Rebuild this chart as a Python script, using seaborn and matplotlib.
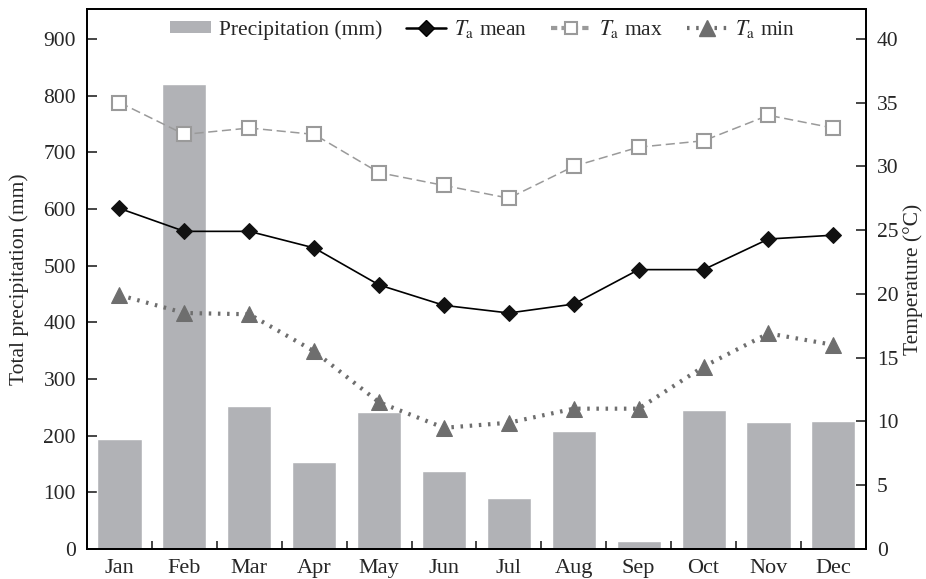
import numpy as np
import pandas as pd
import matplotlib
matplotlib.use('Agg')
import matplotlib.pyplot as plt
import seaborn as sns
from matplotlib.patches import Patch
from matplotlib.lines import Line2D

months = ['Jan', 'Feb', 'Mar', 'Apr', 'May', 'Jun', 'Jul', 'Aug', 'Sep', 'Oct', 'Nov', 'Dec']
precip = [194, 820, 252, 153, 241, 137, 90, 208, 15, 246, 224, 225]
t_mean = [26.7, 24.9, 24.9, 23.6, 20.7, 19.1, 18.5, 19.2, 21.9, 21.9, 24.3, 24.6]
t_max = [35.0, 32.5, 33.0, 32.5, 29.5, 28.5, 27.5, 30.0, 31.5, 32.0, 34.0, 33.0]
t_min = [19.9, 18.5, 18.4, 15.5, 11.5, 9.5, 9.9, 11.0, 11.0, 14.3, 16.9, 16.0]

sns.set_style('ticks')
plt.rcParams['font.family'] = ['Liberation Serif', 'DejaVu Serif']
plt.rcParams['mathtext.fontset'] = 'stix'
plt.rcParams['font.size'] = 15.5

df = pd.DataFrame({'month': months, 'precip': precip, 'x': np.arange(len(months)),
                   'tmean': t_mean, 'tmax': t_max, 'tmin': t_min})

fig = plt.figure(figsize=(9.26, 5.79), dpi=100)
ax = fig.add_axes([0.094, 0.0518, 0.841, 0.932])

bar_col = '#b1b2b6'
sns.barplot(data=df, x='x', y='precip', color=bar_col, width=0.68, saturation=1, ax=ax)
ax.set_xlim(-0.5, 11.5)
ax.set_ylim(0, 952)
ax.set_yticks(range(0, 901, 100))
ax.set_xticks(np.arange(12))
ax.set_xticklabels(months, fontsize=16)
ax.set_xticks(np.arange(0.5, 11, 1), minor=True)
ax.tick_params(axis='x', which='major', length=0, pad=7)
ax.tick_params(axis='x', which='minor', direction='in', length=6, width=1.2)
ax.tick_params(axis='y', direction='in', length=7, width=1.2, pad=8)
ax.set_xlabel('')
ax.set_ylabel('Total precipitation (mm)', labelpad=10)

ax2 = ax.twinx()
sns.lineplot(data=df, x='x', y='tmax', ax=ax2, color='#9a9a9a', lw=1.1, linestyle=(0, (6, 3)),
             marker='s', markersize=10, markerfacecolor='white', markeredgecolor='#9a9a9a',
             markeredgewidth=1.5)
sns.lineplot(data=df, x='x', y='tmean', ax=ax2, color='black', lw=1.2,
             marker='D', markersize=8, markerfacecolor='#111111', markeredgecolor='#111111')
sns.lineplot(data=df, x='x', y='tmin', ax=ax2, color='#6e6e6e', lw=3, linestyle=(0, (0.6, 1.6)),
             marker='^', markersize=12, markerfacecolor='#6e6e6e', markeredgecolor='#6e6e6e')
ax2.set_ylim(0, 42.3)
ax2.set_yticks(range(0, 41, 5))
ax2.tick_params(axis='y', direction='in', length=7, width=1.2, pad=8)
ax2.set_ylabel('Temperature (°C)', labelpad=3)
ax2.set_xlabel('')
ax2.set_xlim(-0.5, 11.5)

for a in (ax, ax2):
    for s in a.spines.values():
        s.set_linewidth(1.3)
        s.set_color('black')

handles = [
    Patch(facecolor=bar_col, edgecolor='none'),
    Line2D([], [], color='black', lw=1.8, marker='D', markersize=8, markerfacecolor='#111111'),
    Line2D([], [], color='#9a9a9a', lw=3, linestyle=(0, (1.5, 1)), marker='s', markersize=9,
           markerfacecolor='white', markeredgecolor='#9a9a9a', markeredgewidth=1.5),
    Line2D([], [], color='#6e6e6e', lw=3, linestyle=(0, (0.6, 1.6)), marker='^', markersize=11,
           markerfacecolor='#6e6e6e', markeredgecolor='#6e6e6e'),
]
labels = ['Precipitation (mm)', r'$T_\mathrm{a}$ mean', r'$T_\mathrm{a}$ max', r'$T_\mathrm{a}$ min']
ax2.legend(handles, labels, loc='upper center', bbox_to_anchor=(0.508, 1.02), ncol=4,
           frameon=False, handlelength=1.9, handletextpad=0.35, columnspacing=1.1,
           fontsize=15.5, handleheight=0.5)

fig.savefig('out.png', dpi=100)
